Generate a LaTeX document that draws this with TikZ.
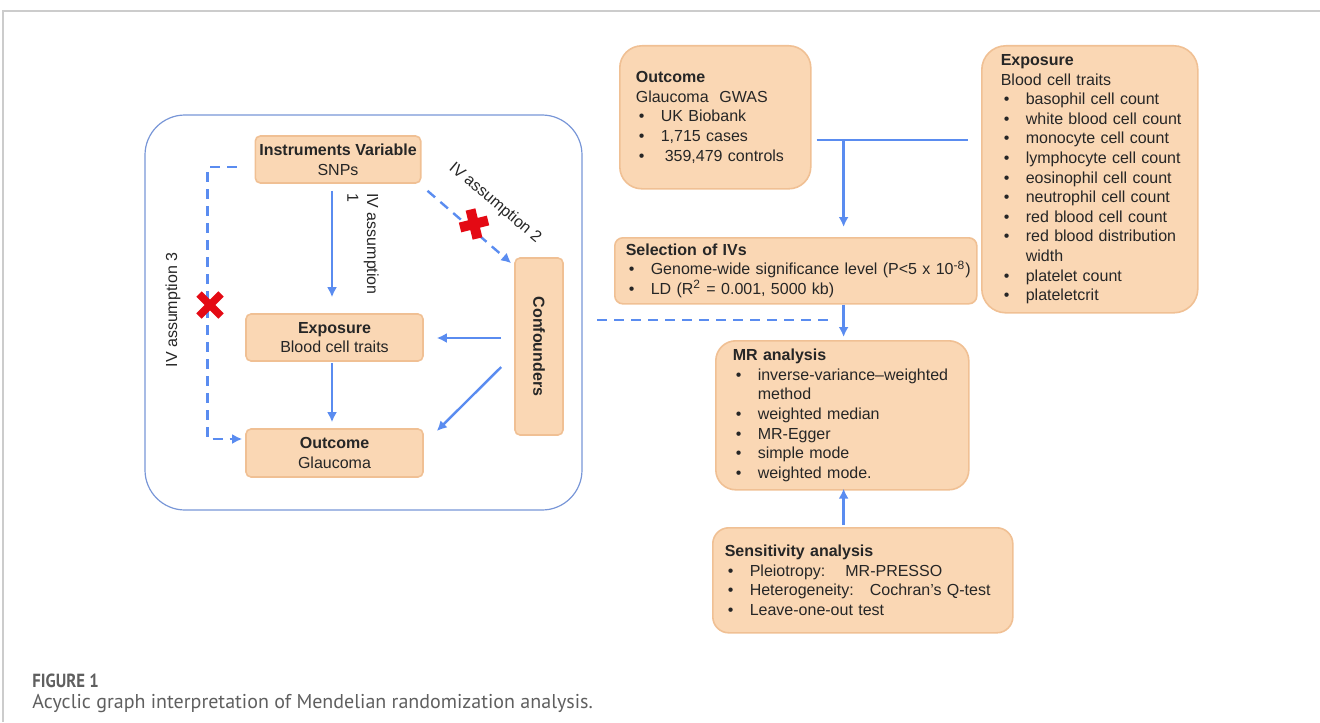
\documentclass[tikz,border=0pt]{standalone}
\usepackage{fontspec}
\setmainfont{Liberation Sans}
\newfontfamily\capfont{PT Sans}
\newfontfamily\capfontn[FakeStretch=0.88]{PT Sans}
\usetikzlibrary{positioning, arrows.meta, calc}
\definecolor{peach}{RGB}{250,215,180}
\definecolor{peachdk}{RGB}{240,192,148}
\definecolor{arrblue}{RGB}{90,140,240}
\definecolor{frameblue}{RGB}{120,150,215}
\definecolor{xred}{RGB}{228,10,20}
\definecolor{capgray}{RGB}{95,95,95}
\newcommand{\bl}[1]{\mbox{\makebox[12.5pt][l]{\hspace{1.5pt}\textbullet}#1}}
\tikzset{
  arr/.style={-{Latex[length=5pt,width=5pt]}, line width=1.2pt, draw=arrblue},
  darr/.style={arr, dash pattern=on 5pt off 3.5pt},
  dln/.style={line width=1.2pt, draw=arrblue, dash pattern=on 5pt off 3.5pt},
  pln/.style={line width=1.2pt, draw=arrblue},
  blk/.style={draw=peachdk, fill=peach, line width=0.8pt, rounded corners=2.5pt, align=center, inner sep=2pt},
  card/.style={draw=peachdk, fill=peach, line width=0.8pt, align=left, anchor=north west, inner ysep=2pt},
  lab/.style={align=left, inner sep=0pt},
  xmark/.style={draw=xred, line width=4.5pt}
}

\begin{document}
\begin{tikzpicture}[x=0.5pt, y=-0.5pt, font=\fontsize{8}{9.8}\selectfont, text=black!85]
\useasboundingbox (0,0) rectangle (1320,722);
\draw[black!20, line width=0.6pt] (3,722) -- (3,11) -- (1320,11);

% left: acyclic graph
\draw[frameblue, line width=0.6pt, rounded corners=20pt] (145,115) rectangle (582,510);
\node[blk, minimum width=82pt, minimum height=23.5pt] (iv) at (338,159.5)
  {\textbf{Instruments Variable}\\SNPs};
\node[blk, minimum width=88.5pt, minimum height=23.5pt] (ex) at (334.5,337.5)
  {\textbf{Exposure}\\Blood cell traits};
\node[blk, minimum width=88.5pt, minimum height=24pt] (out) at (334.5,453)
  {\textbf{Outcome}\\Glaucoma};
\node[blk, rotate=-90, minimum width=88.5pt, minimum height=24pt] (conf) at (539,346.5)
  {\textbf{Confounders}};

\draw[arr] ($(ex.north |- iv.south)+(-2.5,7)$) -- ($(ex.north)+(-2.5,-16)$);
\draw[arr] ($(ex.south)+(-2.5,1)$) -- ($(out.north)+(-2.5,-6)$);
\draw[arr] ($(conf.south)+(-13,-8.5)$) -- ($(ex.east)+(13,0.5)$);
\draw[arr] ($(conf.south)+(-13,20.5)$) -- ($(out.east)+(13,-22)$);
\draw[darr] ($(iv.south east)+(6,7)$) -- ($(conf.south west)+(-3,6)$);
\draw[darr] ($(iv.west)+(-18,7.5)$) -- ++(-29,0) |- ($(out.west)+(-3,-14)$);

\node[lab, rotate=-90, anchor=north west] (a1) at (379,193) {IV assumption\\1};
\node[lab, rotate=-40] (a2) at (495,203) {IV assumption 2};
\node[lab, rotate=90] (a3) at (173,310) {IV assumption 3};

\coordinate (x2) at (474,224);
\coordinate (x3) at (210,305);
\draw[xmark, line width=5pt] ($(x2)+(-3.5,-14.5)$) -- ($(x2)+(3.5,14.5)$)
  ($(x2)+(-14,3.5)$) -- ($(x2)+(14,-3.5)$);
\draw[xmark, line width=3.8pt] ($(x3)+(-11,-11)$) -- ($(x3)+(11,11)$)
  ($(x3)+(-11,11)$) -- ($(x3)+(11,-11)$);

% right: workflow
\node[card, rounded corners=11pt, inner xsep=8pt, text width=79.5pt, minimum height=71.5pt] (outg) at (619,45)
  {\textbf{Outcome}\\Glaucoma\ \ GWAS\\\bl{UK Biobank}\\\bl{1,715 cases}\\\bl{\hspace{2pt}359,479 controls}};
\node[card, rounded corners=12pt, inner xsep=9.5pt, text width=89pt, minimum height=133.5pt] (expr) at (981,45)
  {\textbf{Exposure}\\Blood cell traits\\\bl{basophil cell count}\\\bl{white blood cell count}\\\bl{monocyte cell count}\\
   \bl{lymphocyte cell count}\\\bl{eosinophil cell count}\\\bl{neutrophil cell count}\\\bl{red blood cell count}\\
   \bl{red blood distribution}\\\hspace*{12.5pt}width\\\bl{platelet count}\\\bl{plateletcrit}};
\node[card, rounded corners=4pt, inner xsep=5.5pt, text width=170pt, minimum height=33pt] (sel) at (614,237)
  {\textbf{Selection of IVs}\\\bl{Genome-wide significance level (P<5 x 10\textsuperscript{-8})}\\
   \bl{LD (R\textsuperscript{2} = 0.001, 5000 kb)}};
\node[card, rounded corners=10pt, inner xsep=8.5pt, text width=109.5pt, minimum height=74.5pt] (mr) at (715,340)
  {\textbf{MR analysis}\\\bl{inverse-variance--weighted}\\\hspace*{12.5pt}method\\\bl{weighted median}\\
   \bl{MR-Egger}\\\bl{simple mode}\\\bl{weighted mode.}};
\node[card, rounded corners=8pt, inner xsep=6pt, text width=138pt, minimum height=52.5pt] (sen) at (712,527)
  {\textbf{Sensitivity analysis}\\\bl{Pleiotropy:\hspace{6pt} MR-PRESSO}\\
   \bl{Heterogeneity:\hspace{4pt} Cochran's Q-test}\\\bl{Leave-one-out test}};

\coordinate (jn) at ($(outg.east)+(32,22.5)$);
\draw[pln] ($(outg.east)+(5,22.5)$) -- ($(expr.west)+(-13,-39.5)$);
\draw[arr, shorten >=5pt] (jn) -- (jn |- sel.north);
\draw[arr, shorten >=1.5pt] (jn |- sel.south) -- (jn |- mr.north);
\draw[arr, shorten <=1pt, shorten >=-1pt] (jn |- sen.north) -- (jn |- mr.south);
\coordinate (dl) at (597,320);
\draw[dln, shorten >=8pt] (dl) -- (dl -| jn);

% caption
\node[anchor=west, inner sep=0pt, font=\capfontn\bfseries\fontsize{9.5}{11}\selectfont, text=capgray] (fig) at (32,681) {FIGURE 1};
\node[anchor=west, inner sep=0pt, font=\capfont\fontsize{10}{12}\selectfont, text=capgray] (cap) at (32,703)
  {Acyclic graph interpretation of Mendelian randomization analysis.};
\end{tikzpicture}
\end{document}
